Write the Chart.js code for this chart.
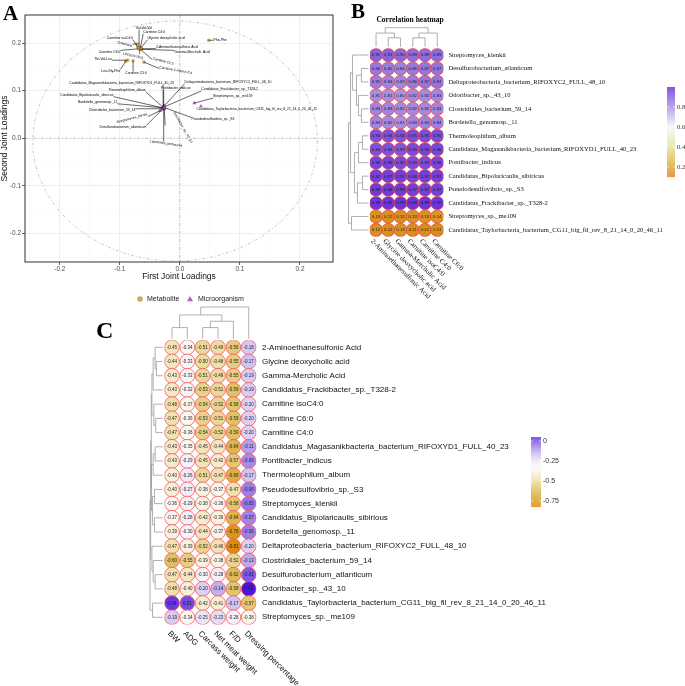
<!DOCTYPE html>
<html><head><meta charset="utf-8">
<title>Joint loadings and correlation heatmaps</title>
<script src="https://cdn.jsdelivr.net/npm/chart.js@4.4.1/dist/chart.umd.min.js"></script>
<style>
html,body{margin:0;padding:0;background:#fff;}
#page{position:relative;width:685px;height:686px;overflow:hidden;background:#fff;}
#page canvas{position:absolute;}
.tag{position:absolute;font-family:"Liberation Serif","Times New Roman",serif;font-weight:bold;color:#000;line-height:1;margin:0;}
</style></head><body>
<div id="page">
<canvas id="chartA" width="340" height="310" style="left:0;top:0"></canvas>
<canvas id="chartB" width="355" height="300" style="left:330px;top:0"></canvas>
<canvas id="chartC" width="595" height="391" style="left:90px;top:295px"></canvas>
<div class="tag" style="left:3px;top:3px;font-size:21px">A</div>
<div class="tag" style="left:351px;top:1px;font-size:21px">B</div>
<div class="tag" style="left:96px;top:318px;font-size:24px">C</div>
</div>
<script>
// ================= Panel A data =================
const metaboliteNames = ['Val-Val-Val','Carnitine C4:0','Glycine deoxycholic acid','Carnitine isoC4:0','Creatinine','2-Aminoethanesulfonic Acid','Carnitine C6:0','Gamma-Mercholic Acid','LPC(0:0/16:0)','Carnitine C2:0','Phe-Phe','Thr-Val-Leu','Leu-Gly-Phe','Carnitine C5:0','Carnitine 2-methyl-C4'];
const metaboliteX = [-0.068,-0.066,-0.065,-0.070,-0.071,-0.064,-0.069,-0.064,-0.067,-0.066,0.048,-0.087,-0.090,-0.078,-0.060];
const metaboliteY = [0.191,0.190,0.190,0.191,0.198,0.188,0.188,0.187,0.189,0.187,0.206,0.164,0.162,0.163,0.160];
const microbeNames = ['Candidatus_Magasanikbacteria_bacterium_RIFOXYD1_FULL_40_23','Deltaproteobacteria_bacterium_RIFOXYC2_FULL_48_10','Pontibacter_indicus','Thermoleophilum_album','Candidatus_Frackibacter_sp._T328-2','Candidatus_Bipolaricaulis_sibiricus','Streptomyces_sp._me109','Bordetella_genomosp._11','Clostridiales_bacterium_59_14','Candidatus_Taylorbacteria_bacterium_CG11_big_fil_rev_8_21_14_0_20_46_11','Streptomyces_klenkii','Pseudodesulfovibrio_sp._S3','Odoribacter_sp._43_10','Desulfurobacterium_atlanticum','Leptolinea_perfusoria'];
const microbeX = [-0.028,-0.026,-0.027,-0.028,-0.026,-0.029,0.024,-0.028,-0.029,0.035,-0.033,-0.025,-0.026,-0.030,-0.027];
const microbeY = [0.066,0.068,0.067,0.065,0.066,0.064,0.074,0.064,0.062,0.067,0.058,0.064,0.062,0.060,0.063];
const legendItemsA = ['Metabolite','Microorganism'];
const axisTitlesA = ['First Joint Loadings','Second Joint Loadings'];

// label placement for the repelled labels (data units + rotation in degrees)
const metaboliteLabelPos = [[-0.060,0.232,0],[-0.043,0.223,0],[-0.023,0.2105,0],[-0.100,0.211,0],[-0.092,0.198,15],[-0.005,0.192,0],[-0.117,0.181,0],[0.020,0.181,0],[-0.078,0.173,12],[-0.028,0.162,15],[0.067,0.206,0],[-0.128,0.166,0],[-0.115,0.141,0],[-0.073,0.137,0],[-0.007,0.143,10]];
const microbeLabelPos = [[-0.097,0.116,0],[0.080,0.118,0],[-0.007,0.105,0],[-0.088,0.101,0],[0.083,0.103,0],[-0.155,0.091,0],[0.088,0.088,0],[-0.137,0.076,0],[-0.113,0.059,0],[0.128,0.061,0],[-0.080,0.042,-15],[0.055,0.040,0],[0.005,0.023,60],[-0.095,0.023,0],[-0.023,-0.011,8]];
const ellipseA = {cx:-0.008, cy:-0.006, rx:0.237, ry:0.252};

// ================= Panel B data =================
const bTitle = 'Correlation heatmap';
const bRows = ['Streptomyces_klenkii','Desulfurobacterium_atlanticum','Deltaproteobacteria_bacterium_RIFOXYC2_FULL_48_10','Odoribacter_sp._43_10','Clostridiales_bacterium_59_14','Bordetella_genomosp._11','Thermoleophilum_album','Candidatus_Magasanikbacteria_bacterium_RIFOXYD1_FULL_40_23','Pontibacter_indicus','Candidatus_Bipolaricaulis_sibiricus','Pseudodesulfovibrio_sp._S3','Candidatus_Frackibacter_sp._T328-2','Streptomyces_sp._me109','Candidatus_Taylorbacteria_bacterium_CG11_big_fil_rev_8_21_14_0_20_46_11'];
const bCols = ['2-Aminoethanesulfonic Acid','Glycine deoxycholic acid','Gamma-Mercholic Acid','Carnitine isoC4:0','Carnitine C4:0','Carnitine C6:0'];
const bValues = [
 [0.91,0.91,0.90,0.89,0.89,0.89],
 [0.86,0.85,0.84,0.86,0.87,0.87],
 [0.85,0.84,0.83,0.86,0.87,0.87],
 [0.81,0.81,0.80,0.82,0.82,0.83],
 [0.83,0.83,0.82,0.82,0.82,0.83],
 [0.83,0.82,0.81,0.83,0.84,0.84],
 [0.94,0.94,0.94,0.95,0.95,0.95],
 [0.94,0.94,0.93,0.95,0.96,0.96],
 [0.96,0.96,0.95,0.95,0.95,0.96],
 [0.97,0.97,0.97,0.96,0.97,0.97],
 [0.98,0.98,0.98,0.97,0.97,0.97],
 [0.99,0.99,0.99,0.99,0.99,0.99],
 [0.13,0.12,0.12,0.13,0.13,0.14],
 [0.12,0.12,0.13,0.11,0.11,0.11]
];
const bLegendTicks = [0.2,0.4,0.6,0.8];
const bRowTree = [1.0,[0.9,[0.8,0,[0.6,[0.35,1,2],[0.5,3,[0.35,4,5]]]],[0.7,[0.5,[0.3,6,7],8],[0.55,[0.3,9,10],11]]],[0.85,12,13]];
const bColTree = [1.0,[0.72,0,[0.47,1,2]],[0.72,[0.47,3,4],5]];

// ================= Panel C data =================
const cRows = ['2-Aminoethanesulfonic Acid','Glycine deoxycholic acid','Gamma-Mercholic Acid','Candidatus_Frackibacter_sp._T328-2','Carnitine isoC4:0','Carnitine C6:0','Carnitine C4:0','Candidatus_Magasanikbacteria_bacterium_RIFOXYD1_FULL_40_23','Pontibacter_indicus','Thermoleophilum_album','Pseudodesulfovibrio_sp._S3','Streptomyces_klenkii','Candidatus_Bipolaricaulis_sibirious','Bordetella_genomosp._11','Deltaproteobacteria_bacterium_RIFOXYC2_FULL_48_10','Clostridiales_bacterium_59_14','Desulfurobacterium_atlanticum','Odoribacter_sp._43_10','Candidatus_Taylorbacteria_bacterium_CG11_big_fil_rev_8_21_14_0_20_46_11','Streptomyces_sp._me109'];
const cCols = ['BW','ADG','Carcass weight','Net meat weight','F/D','Dressing percentage'];
const cValues = [
 [-0.45,-0.34,-0.51,-0.49,-0.56,-0.18],
 [-0.44,-0.33,-0.50,-0.48,-0.55,-0.17],
 [-0.43,-0.33,-0.51,-0.49,-0.55,-0.19],
 [-0.43,-0.32,-0.53,-0.51,-0.59,-0.19],
 [-0.48,-0.37,-0.54,-0.52,-0.58,-0.20],
 [-0.47,-0.36,-0.53,-0.51,-0.59,-0.20],
 [-0.47,-0.36,-0.54,-0.52,-0.59,-0.20],
 [-0.43,-0.35,-0.45,-0.44,-0.64,-0.11],
 [-0.43,-0.29,-0.45,-0.42,-0.57,-0.08],
 [-0.40,-0.26,-0.51,-0.47,-0.66,-0.17],
 [-0.40,-0.27,-0.38,-0.37,-0.47,-0.06],
 [-0.36,-0.29,-0.38,-0.36,-0.58,-0.05],
 [-0.37,-0.28,-0.42,-0.39,-0.64,-0.07],
 [-0.39,-0.30,-0.44,-0.37,-0.76,-0.06],
 [-0.47,-0.39,-0.52,-0.46,-0.81,-0.20],
 [-0.60,-0.55,-0.39,-0.38,-0.52,-0.13],
 [-0.47,-0.44,-0.30,-0.28,-0.62,-0.01],
 [-0.48,-0.40,-0.20,-0.14,-0.58,0.09],
 [0.04,0.01,-0.42,-0.41,-0.17,-0.57],
 [-0.19,-0.34,-0.25,-0.23,-0.28,-0.38]
];
const cLegendTicks = [0,-0.25,-0.5,-0.75];
const cRowTree = [1.0,[0.95,[0.9,[0.85,[0.75,[0.6,0,[0.5,1,2]],3],[0.7,4,[0.55,5,6]]],[0.88,[0.75,[0.6,7,8],9],[0.8,[0.65,10,11],[0.65,12,13]]]],[0.85,14,[0.75,15,[0.6,16,17]]]],[0.8,18,19]];
const cColTree = [1.0,[0.75,[0.35,0,1],[0.55,[0.35,2,3],4]],5];

// ================= styles =================
const SANS = '"Liberation Sans", Arial, sans-serif';
const SERIF = '"Liberation Serif", "Times New Roman", serif';
const bColorStops = [[0.1,'#D98A1A'],[0.2,'#DDA43A'],[0.4,'#E4E29C'],[0.6,'#F8F6F8'],[0.8,'#A993E2'],[0.9,'#8A68DC'],[1.0,'#6930D6']];
const cColorStops = [[-0.82,'#D98A12'],[-0.7,'#DBA42E'],[-0.58,'#E2C46C'],[-0.48,'#EFDFAA'],[-0.36,'#FBF8F2'],[-0.28,'#F4F0FB'],[-0.18,'#D6C8F2'],[-0.06,'#9C7EEA'],[0.0,'#7A52E6'],[0.1,'#4A0CE6']];

function hexRgb(h){return [parseInt(h.slice(1,3),16),parseInt(h.slice(3,5),16),parseInt(h.slice(5,7),16)];}
function makeScale(stops){
  const s = stops.map(([v,c])=>[v,hexRgb(c)]);
  return v=>{
    if (v<=s[0][0]) return 'rgb('+s[0][1].join(',')+')';
    if (v>=s[s.length-1][0]) return 'rgb('+s[s.length-1][1].join(',')+')';
    for (let i=1;i<s.length;i++){
      if (v<=s[i][0]){
        const t=(v-s[i-1][0])/(s[i][0]-s[i-1][0]);
        const c=s[i-1][1].map((a,k)=>Math.round(a+(s[i][1][k]-a)*t));
        return 'rgb('+c.join(',')+')';
      }
    }
  };
}
const colorB = makeScale(bColorStops);
const colorC = makeScale(cColorStops);

function drawTree(ctx, node, leafPos, hPix, orient){
  if (typeof node === 'number') return {p: leafPos(node), h: 0};
  const a = drawTree(ctx,node[1],leafPos,hPix,orient);
  const b = drawTree(ctx,node[2],leafPos,hPix,orient);
  const H = hPix(node[0]);
  ctx.beginPath();
  if (orient==='top'){
    ctx.moveTo(a.p,hPix(a.h)); ctx.lineTo(a.p,H); ctx.lineTo(b.p,H); ctx.lineTo(b.p,hPix(b.h));
  } else {
    ctx.moveTo(hPix(a.h),a.p); ctx.lineTo(H,a.p); ctx.lineTo(H,b.p); ctx.lineTo(hPix(b.h),b.p);
  }
  ctx.stroke();
  return {p:(a.p+b.p)/2, h:node[0]};
}
const fmt2 = v => v.toFixed(2);
const baseOpts = {responsive:false, animation:false, events:[], plugins:{legend:{display:false}, tooltip:{enabled:false}}};

// ================= Chart A =================
const isMajor = v => Math.abs(Math.round(v*20)) % 2 === 0;
const stepTicks = () => { const t=[]; for(let k=-5;k<=5;k++) t.push({value:k*0.05}); return t; };
const plugA = {
  id:'plugA',
  beforeDatasetsDraw(chart){
    const {ctx, chartArea:a, scales:{x,y}} = chart;
    ctx.save();
    ctx.beginPath(); ctx.rect(a.left,a.top,a.right-a.left,a.bottom-a.top); ctx.clip();
    ctx.strokeStyle='#AFAFAF'; ctx.lineWidth=0.7; ctx.setLineDash([3,2,1,2]);
    ctx.beginPath();
    ctx.moveTo(x.getPixelForValue(0),a.top); ctx.lineTo(x.getPixelForValue(0),a.bottom);
    ctx.moveTo(a.left,y.getPixelForValue(0)); ctx.lineTo(a.right,y.getPixelForValue(0));
    ctx.stroke();
    const cx=x.getPixelForValue(ellipseA.cx), cy=y.getPixelForValue(ellipseA.cy);
    const rx=Math.abs(x.getPixelForValue(ellipseA.cx+ellipseA.rx)-cx), ry=Math.abs(y.getPixelForValue(ellipseA.cy+ellipseA.ry)-cy);
    ctx.beginPath(); ctx.ellipse(cx,cy,rx,ry,0,0,Math.PI*2); ctx.stroke();
    ctx.restore();
  },
  afterDatasetsDraw(chart){
    const {ctx, scales:{x,y}} = chart;
    const groups = [[metaboliteNames,metaboliteLabelPos],[microbeNames,microbeLabelPos]];
    ctx.save();
    ctx.font = '3.4px '+SANS;
    ctx.textAlign='center'; ctx.textBaseline='middle';
    groups.forEach(([names,pos],d)=>{
      const meta = chart.getDatasetMeta(d);
      names.forEach((n,i)=>{
        const el = meta.data[i];
        const lx = x.getPixelForValue(pos[i][0]), ly = y.getPixelForValue(pos[i][1]);
        const w = ctx.measureText(n).width, h = 3.4;
        const qx = Math.max(lx-w/2, Math.min(el.x, lx+w/2));
        const qy = Math.max(ly-h/2, Math.min(el.y, ly+h/2));
        if (Math.hypot(qx-el.x, qy-el.y) > 3){
          ctx.strokeStyle='#000'; ctx.lineWidth=0.6;
          ctx.beginPath(); ctx.moveTo(el.x,el.y); ctx.lineTo(qx,qy); ctx.stroke();
        }
        ctx.save(); ctx.translate(lx,ly); ctx.rotate(pos[i][2]*Math.PI/180);
        ctx.fillStyle='#000'; ctx.fillText(n,0,0); ctx.restore();
      });
    });
    ctx.restore();
  },
  afterDraw(chart){
    const {ctx, chartArea:a} = chart;
    ctx.save();
    ctx.strokeStyle='#333'; ctx.lineWidth=1;
    ctx.strokeRect(a.left,a.top,a.right-a.left,a.bottom-a.top);
    const ly = 299;
    ctx.font='7px '+SANS; ctx.textBaseline='middle'; ctx.textAlign='left';
    ctx.fillStyle='#D5A55E'; ctx.beginPath(); ctx.arc(140,ly,2.8,0,Math.PI*2); ctx.fill();
    ctx.fillStyle='#222'; ctx.fillText(legendItemsA[0],147,ly);
    ctx.fillStyle='#B75BC6'; ctx.beginPath(); ctx.moveTo(190,ly-3); ctx.lineTo(193,ly+2.2); ctx.lineTo(187,ly+2.2); ctx.closePath(); ctx.fill();
    ctx.fillStyle='#222'; ctx.fillText(legendItemsA[1],198,ly);
    ctx.restore();
  }
};
new Chart(document.getElementById('chartA'), {
  type:'scatter',
  data:{datasets:[
    {label:legendItemsA[0], data:metaboliteNames.map((n,i)=>({x:metaboliteX[i],y:metaboliteY[i]})), pointStyle:'circle', pointRadius:1.8, backgroundColor:'#D5A55E', borderWidth:0},
    {label:legendItemsA[1], data:microbeNames.map((n,i)=>({x:microbeX[i],y:microbeY[i]})), pointStyle:'triangle', pointRadius:2.3, backgroundColor:'#B75BC6', borderWidth:0}
  ]},
  options:Object.assign({}, baseOpts, {
    layout:{padding:{left:0,top:15,right:7,bottom:26}},
    scales:{
      x:{type:'linear', min:-0.258, max:0.255, afterBuildTicks:s=>{s.ticks=stepTicks();}, afterFit:s=>{s.height=22;},
         grid:{color:c=>isMajor(c.tick.value)?'#EBEBEB':'#F5F5F5', lineWidth:c=>isMajor(c.tick.value)?0.8:0.5, drawTicks:true, tickLength:3, tickColor:c=>isMajor(c.tick.value)?'#333':'rgba(0,0,0,0)'},
         border:{display:false},
         ticks:{autoSkip:false, maxRotation:0, padding:0, color:'#4D4D4D', font:{family:SANS,size:6.5}, callback:v=>isMajor(v)?v.toFixed(1):''},
         title:{display:true, text:axisTitlesA[0], color:'#111', font:{family:SANS,size:8.5}, padding:{top:0,bottom:2}}},
      y:{type:'linear', min:-0.26, max:0.259, afterBuildTicks:s=>{s.ticks=stepTicks();}, afterFit:s=>{s.width=25;},
         grid:{color:c=>isMajor(c.tick.value)?'#EBEBEB':'#F5F5F5', lineWidth:c=>isMajor(c.tick.value)?0.8:0.5, drawTicks:true, tickLength:3, tickColor:c=>isMajor(c.tick.value)?'#333':'rgba(0,0,0,0)'},
         border:{display:false},
         ticks:{autoSkip:false, padding:1, color:'#4D4D4D', font:{family:SANS,size:6.5}, callback:v=>isMajor(v)?v.toFixed(1):''},
         title:{display:true, text:axisTitlesA[1], color:'#111', font:{family:SANS,size:8.5}, padding:0}}
    }
  }),
  plugins:[plugA]
});

// ================= heatmap helper =================
function heatPlugin(id, opt){
  return {
    id,
    afterDatasetsDraw(chart){
      const {ctx} = chart; const meta = chart.getDatasetMeta(0);
      ctx.save(); ctx.font = opt.valueFont; ctx.textAlign='center'; ctx.textBaseline='middle'; ctx.fillStyle='#1E1E1E';
      meta.data.forEach((el,i)=>{ ctx.fillText(fmt2(chart.data.datasets[0].data[i].v), el.x, el.y+0.2); });
      ctx.restore();
    },
    afterDraw(chart){
      const {ctx, chartArea:a, scales:{x,y}} = chart;
      ctx.save();
      ctx.strokeStyle='#9A9A9A'; ctx.lineWidth=0.8;
      const topBase = a.top-1.5;
      drawTree(ctx, opt.colTree, j=>x.getPixelForValue(j), h=>topBase-h*(topBase-opt.colRoot), 'top');
      const leftBase = a.left-1.5;
      drawTree(ctx, opt.rowTree, i=>y.getPixelForValue(i), h=>leftBase-h*(leftBase-opt.rowRoot), 'left');
      ctx.fillStyle='#111'; ctx.font=opt.colFont; ctx.textAlign='left'; ctx.textBaseline='middle';
      opt.cols.forEach((c,j)=>{
        ctx.save(); ctx.translate(x.getPixelForValue(j)+opt.colDx, a.bottom+opt.colDy); ctx.rotate(Math.PI/4);
        ctx.fillText(c,0,0); ctx.restore();
      });
      const cb = opt.bar;
      for (let py=cb.top; py<cb.bottom; py+=0.5){
        ctx.fillStyle = opt.color(cb.v0 + (py-cb.y0)*cb.k);
        ctx.fillRect(cb.left, py, cb.w, 0.6);
      }
      ctx.font=opt.barFont; ctx.fillStyle='#333'; ctx.textAlign='left'; ctx.textBaseline='middle';
      opt.barTicks.forEach(t=>{
        const py = cb.y0 + (t-cb.v0)/cb.k;
        ctx.strokeStyle='#fff'; ctx.lineWidth=0.6;
        ctx.beginPath(); ctx.moveTo(cb.left,py); ctx.lineTo(cb.left+2,py); ctx.moveTo(cb.left+cb.w-2,py); ctx.lineTo(cb.left+cb.w,py); ctx.stroke();
        ctx.fillText(opt.barLabel(t), cb.left+cb.w+2, py);
      });
      if (opt.title){
        ctx.font=opt.title.font; ctx.fillStyle='#000'; ctx.textAlign='center';
        ctx.fillText(opt.title.text, opt.title.x, opt.title.y);
      }
      ctx.restore();
    }
  };
}
function heatChart(canvasId, rows, cols, values, color, geo, plugin){
  const pts = [];
  values.forEach((r,i)=>r.forEach((v,j)=>pts.push({x:j,y:i,v})));
  return new Chart(document.getElementById(canvasId), {
    type:'scatter',
    data:{datasets:[{data:pts, pointRadius:geo.r, pointHoverRadius:geo.r, backgroundColor:c=>color(c.raw?c.raw.v:0), borderColor:geo.stroke, borderWidth:geo.strokeW}]},
    options:Object.assign({}, baseOpts, {
      layout:{padding:{left:geo.left, top:geo.top, right:0, bottom:geo.bottom}},
      scales:{
        x:{type:'linear', display:false, min:-0.5, max:cols.length-0.5},
        y:{type:'linear', position:'right', reverse:true, min:-0.5, max:rows.length-0.5,
           afterBuildTicks:s=>{s.ticks=rows.map((_,i)=>({value:i}));},
           afterFit:s=>{s.width=geo.axisW;},
           grid:{display:false, drawTicks:false}, border:{display:false},
           ticks:{autoSkip:false, padding:geo.pad, color:'#111', font:geo.rowFont, callback:v=>rows[v]}}
      }
    }),
    plugins:[plugin]
  });
}

// ================= Chart B =================
heatChart('chartB', bRows, bCols, bValues, colorB,
  {r:6.6, stroke:'#EE3B3B', strokeW:0.7, left:39.9, top:48.3, bottom:63.3, axisW:355-113.4, pad:5, rowFont:{family:SERIF,size:6.6}},
  heatPlugin('plugB', {valueFont:'4.3px '+SANS, colTree:bColTree, colRoot:27.7, rowTree:bRowTree, rowRoot:18.5,
    cols:bCols, colFont:'7px '+SERIF, colDx:-4.3, colDy:3.5,
    color:colorB, bar:{left:337, w:8, top:87, bottom:177, y0:87, v0:1.0, k:-0.01}, barTicks:bLegendTicks, barFont:'6.5px '+SERIF, barLabel:t=>t.toFixed(1),
    title:{text:bTitle, font:'bold 7.5px '+SERIF, x:80, y:20}}));

// ================= Chart C =================
heatChart('chartC', cRows, cCols, cValues, colorC,
  {r:7.4, stroke:'#F25A5A', strokeW:0.8, left:74.3, top:45.2, bottom:61.6, axisW:595-166.4, pad:5.6, rowFont:{family:SANS,size:8}},
  heatPlugin('plugC', {valueFont:'4.5px '+SANS, colTree:cColTree, colRoot:12, rowTree:cRowTree, rowRoot:60,
    cols:cCols, colFont:'8px '+SANS, colDx:-3, colDy:8,
    color:colorC, bar:{left:441, w:10, top:142, bottom:212, y0:146, v0:0, k:-0.0125}, barTicks:cLegendTicks, barFont:'7px '+SANS, barLabel:t=>String(t),
    title:null}));
</script>
</body></html>
